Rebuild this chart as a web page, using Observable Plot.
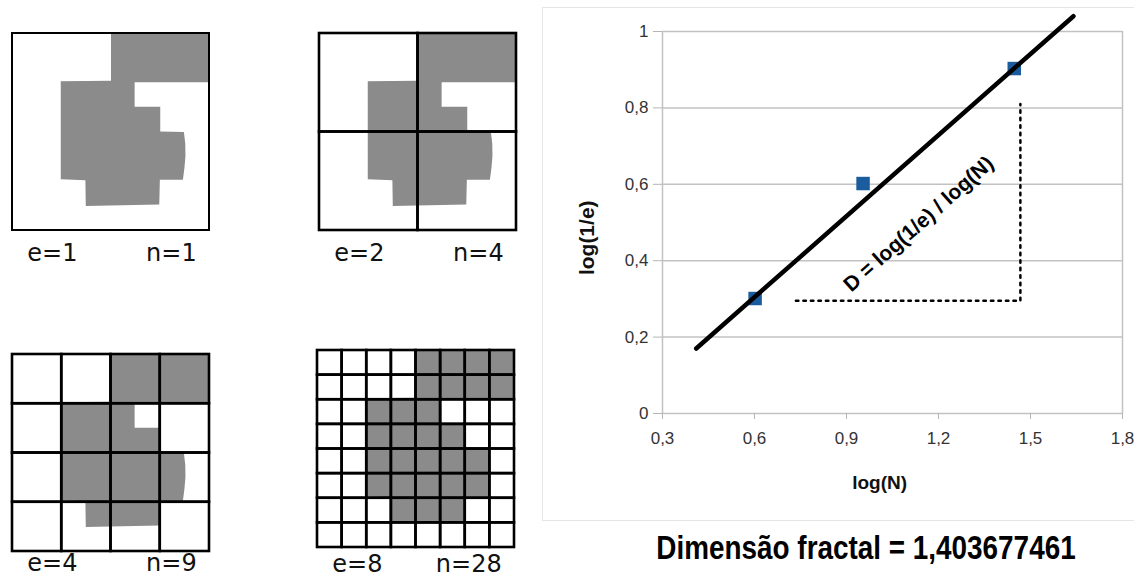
<!DOCTYPE html>
<html><head><meta charset="utf-8">
<script src="https://cdn.jsdelivr.net/npm/d3@7"></script>
<script src="https://cdn.jsdelivr.net/npm/@observablehq/plot@0.6"></script>
<style>
html,body{margin:0;padding:0;background:#fff;}
#root{position:relative;width:1134px;height:579px;overflow:hidden;background:#fff;}
#root svg{position:absolute;overflow:visible;}
.frame{position:absolute;left:542px;top:7px;width:600px;height:514px;border:1px solid #e6e6e6;box-sizing:border-box;}
.title{position:absolute;left:566px;top:531px;width:600px;text-align:center;font-weight:bold;font-size:33px;font-family:"Liberation Sans",Arial,sans-serif;line-height:33px;color:#000;white-space:nowrap;transform:scaleX(0.845);transform-origin:300px 0;}
</style></head><body>
<div id="root"><div class="frame"></div><div class="title">Dimensão fractal = 1,403677461</div></div>
<script>
// ---- data ----
const boxSizes = [1, 2, 4, 8];
const boxCounts = [1, 4, 9, 28];
// outline of the grey object, in fractions of the square (u: left→right, v: top→bottom)
const shapeU = [0.50, 1.00, 1.00, 0.62, 0.62, 0.75, 0.75, 0.870, 0.877, 0.878, 0.873, 0.865, 0.748, 0.745, 0.372, 0.370, 0.245, 0.245, 0.50];
const shapeV = [0.00, 0.00, 0.247, 0.247, 0.372, 0.372, 0.498, 0.500, 0.560, 0.620, 0.680, 0.742, 0.742, 0.868, 0.875, 0.745, 0.740, 0.242, 0.240];
// log-log chart
const logN = [0.602, 0.954, 1.447];
const logInvE = [0.301, 0.602, 0.903];
const fitX = [0.41, 1.64];
const fitY = [0.17, 1.04];
const guideX = [0.735, 1.467, 1.467];
const guideY = [0.295, 0.295, 0.81];
const xTicks = [0.3, 0.6, 0.9, 1.2, 1.5, 1.8];
const yTicks = [0, 0.2, 0.4, 0.6, 0.8, 1];
const formula = "D = log(1/e) / log(N)";

// ---- layout ----
const panelLayout = [
  {left: 12, top: 33, labelGap: 0.117},
  {left: 319, top: 33, labelGap: 0.117},
  {left: 12, top: 354, labelGap: 0.058},
  {left: 317, top: 350, labelGap: 0.085}
];
const S = 197;

const root = document.getElementById("root");
const shape = shapeU.map((u, i) => ({u, v: shapeV[i]}));
const fmt = d => String(d).replace(".", ",");

boxSizes.forEach((e, k) => {
  const n = boxCounts[k];
  const {left, top, labelGap} = panelLayout[k];
  const m = 4, mb = 46;
  const cells = d3.cross(d3.range(e), d3.range(e)).map(([i, j]) => ({x1: i / e, x2: (i + 1) / e, y1: j / e, y2: (j + 1) / e}));
  const svg = Plot.plot({
    width: S + 2 * m, height: S + m + mb,
    marginLeft: m, marginRight: m, marginTop: m, marginBottom: mb,
    x: {domain: [0, 1], axis: null},
    y: {domain: [0, 1], reverse: true, axis: null},
    style: {background: "transparent", fontFamily: "DejaVu Sans, sans-serif", overflow: "visible"},
    marks: [
      Plot.line(shape, {x: "u", y: "v", fill: "#8b8b8b", stroke: "none", curve: "linear-closed"}),
      Plot.rect(cells, {x1: "x1", x2: "x2", y1: "y1", y2: "y2", fill: "none", stroke: "#000", strokeWidth: e === 1 ? 2 : 2.6}),
      Plot.text([`e=${e}`], {x: 0.075, y: 1 + labelGap, text: d => d, textAnchor: "start", fontSize: 24, fill: "#111", letterSpacing: "3.5px"}),
      Plot.text([`n=${n}`], {x: 0.935, y: 1 + labelGap, text: d => d, textAnchor: "end", fontSize: 24, fill: "#111", letterSpacing: "3.5px"})
    ]
  });
  svg.style.left = (left - m) + "px";
  svg.style.top = (top - m) + "px";
  root.appendChild(svg);
});

const points = logN.map((x, i) => ({x, y: logInvE[i]}));
const fit = fitX.map((x, i) => ({x, y: fitY[i]}));
const guide = guideX.map((x, i) => ({x, y: guideY[i]}));

const chart = Plot.plot({
  width: 594, height: 525,
  marginLeft: 122, marginRight: 12, marginTop: 31, marginBottom: 112,
  x: {domain: [0.3, 1.8]},
  y: {domain: [0, 1]},
  style: {background: "transparent", fontFamily: "Liberation Sans, Arial, sans-serif", overflow: "visible"},
  marks: [
    Plot.gridY(yTicks, {stroke: "#c2c2c2", strokeOpacity: 1, strokeWidth: 1.5}),
    Plot.ruleX([0.3, 1.8], {stroke: "#c2c2c2", strokeWidth: 1.5}),
    Plot.axisX(xTicks, {tickSize: 6, stroke: "#b5b5b5", tickFormat: () => "", label: null}),
    Plot.axisY(yTicks, {tickSize: 9, stroke: "#b5b5b5", tickFormat: () => "", label: null}),
    Plot.text(xTicks, {x: d => d, y: 0, dy: 25, text: fmt, fontSize: 17, fill: "#333"}),
    Plot.text(yTicks, {x: 0.3, y: d => d, dx: -14, text: fmt, textAnchor: "end", fontSize: 17, fill: "#333"}),
    Plot.line(guide, {x: "x", y: "y", stroke: "#000", strokeWidth: 2.5, strokeDasharray: "2.5,5"}),
    Plot.dot(points, {x: "x", y: "y", symbol: "square", r: 7.6, fill: "#1b5c9e", stroke: "none"}),
    Plot.line(fit, {x: "x", y: "y", stroke: "#000", strokeWidth: 4.5}),
    Plot.text([formula], {x: 1.135, y: 0.496, text: d => d, rotate: -41.5, fontSize: 21, fontWeight: "bold", fill: "#000"}),
    Plot.text(["log(1/e)"], {x: 0.3, y: 0.46, dx: -75, text: d => d, rotate: -90, fontSize: 21, fontWeight: "bold", fill: "#111"}),
    Plot.text(["log(N)"], {x: 1.008, y: 0, dy: 69, text: d => d, fontSize: 19, fontWeight: "bold", fill: "#111"})
  ]
});
chart.style.left = "540px";
chart.style.top = "0px";
root.appendChild(chart);
</script>
</body></html>
